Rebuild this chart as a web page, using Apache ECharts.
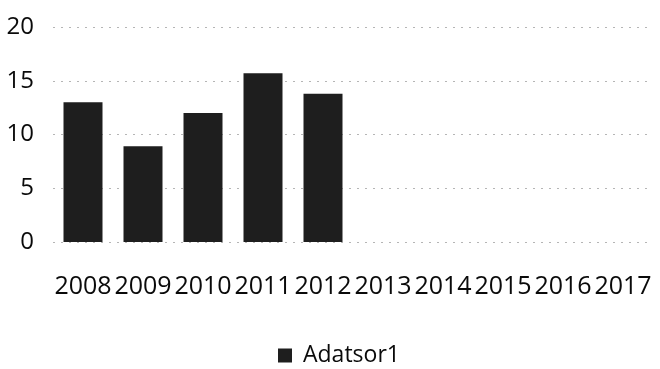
<!DOCTYPE html>
<html>
<head>
<meta charset="utf-8">
<script src="https://cdn.jsdelivr.net/npm/echarts@6/dist/echarts.min.js"></script>
<style>
  html, body { margin: 0; padding: 0; background: #fff; }
  #chart { width: 660px; height: 369px; }
</style>
</head>
<body>
<div id="chart"></div>
<script>
// Years on the category axis
const years = ['2008', '2009', '2010', '2011', '2012', '2013', '2014', '2015', '2016', '2017'];
// Series values (only the first five years have data)
const adatsor1 = [13.0, 8.9, 12.0, 15.7, 13.8, null, null, null, null, null];
// Value axis range
const yMin = 0;
const yMax = 20;
const yStep = 5;

const chart = echarts.init(document.getElementById('chart'), null, { renderer: 'canvas' });

const font = '"Open Sans", "DejaVu Sans", sans-serif';

chart.setOption({
  animation: false,
  backgroundColor: '#ffffff',
  grid: { left: 53, right: 7, top: 27, bottom: 127, containLabel: false },
  legend: {
    data: ['Adatsor1'],
    left: 278,
    top: 344,
    padding: 0,
    itemWidth: 14,
    itemHeight: 14,
    icon: 'rect',
    textStyle: { fontFamily: font, fontSize: 23, color: '#0a0a0a', padding: [0, 0, 0, 6] }
  },
  xAxis: {
    type: 'category',
    data: years,
    axisLine: { show: false },
    axisTick: { show: false },
    axisLabel: { fontFamily: font, fontSize: 25, color: '#0a0a0a', margin: 32, interval: 0 }
  },
  yAxis: {
    type: 'value',
    min: yMin,
    max: yMax,
    interval: yStep,
    axisLine: { show: false },
    axisTick: { show: false },
    axisLabel: { fontFamily: font, fontSize: 24, color: '#0a0a0a', margin: 19 },
    splitLine: { lineStyle: { color: '#b5b5b5', type: [2, 6], width: 1 } }
  },
  series: [{
    name: 'Adatsor1',
    type: 'bar',
    data: adatsor1,
    barWidth: '65%',
    itemStyle: { color: '#1e1e1e' }
  }]
});
</script>
</body>
</html>
